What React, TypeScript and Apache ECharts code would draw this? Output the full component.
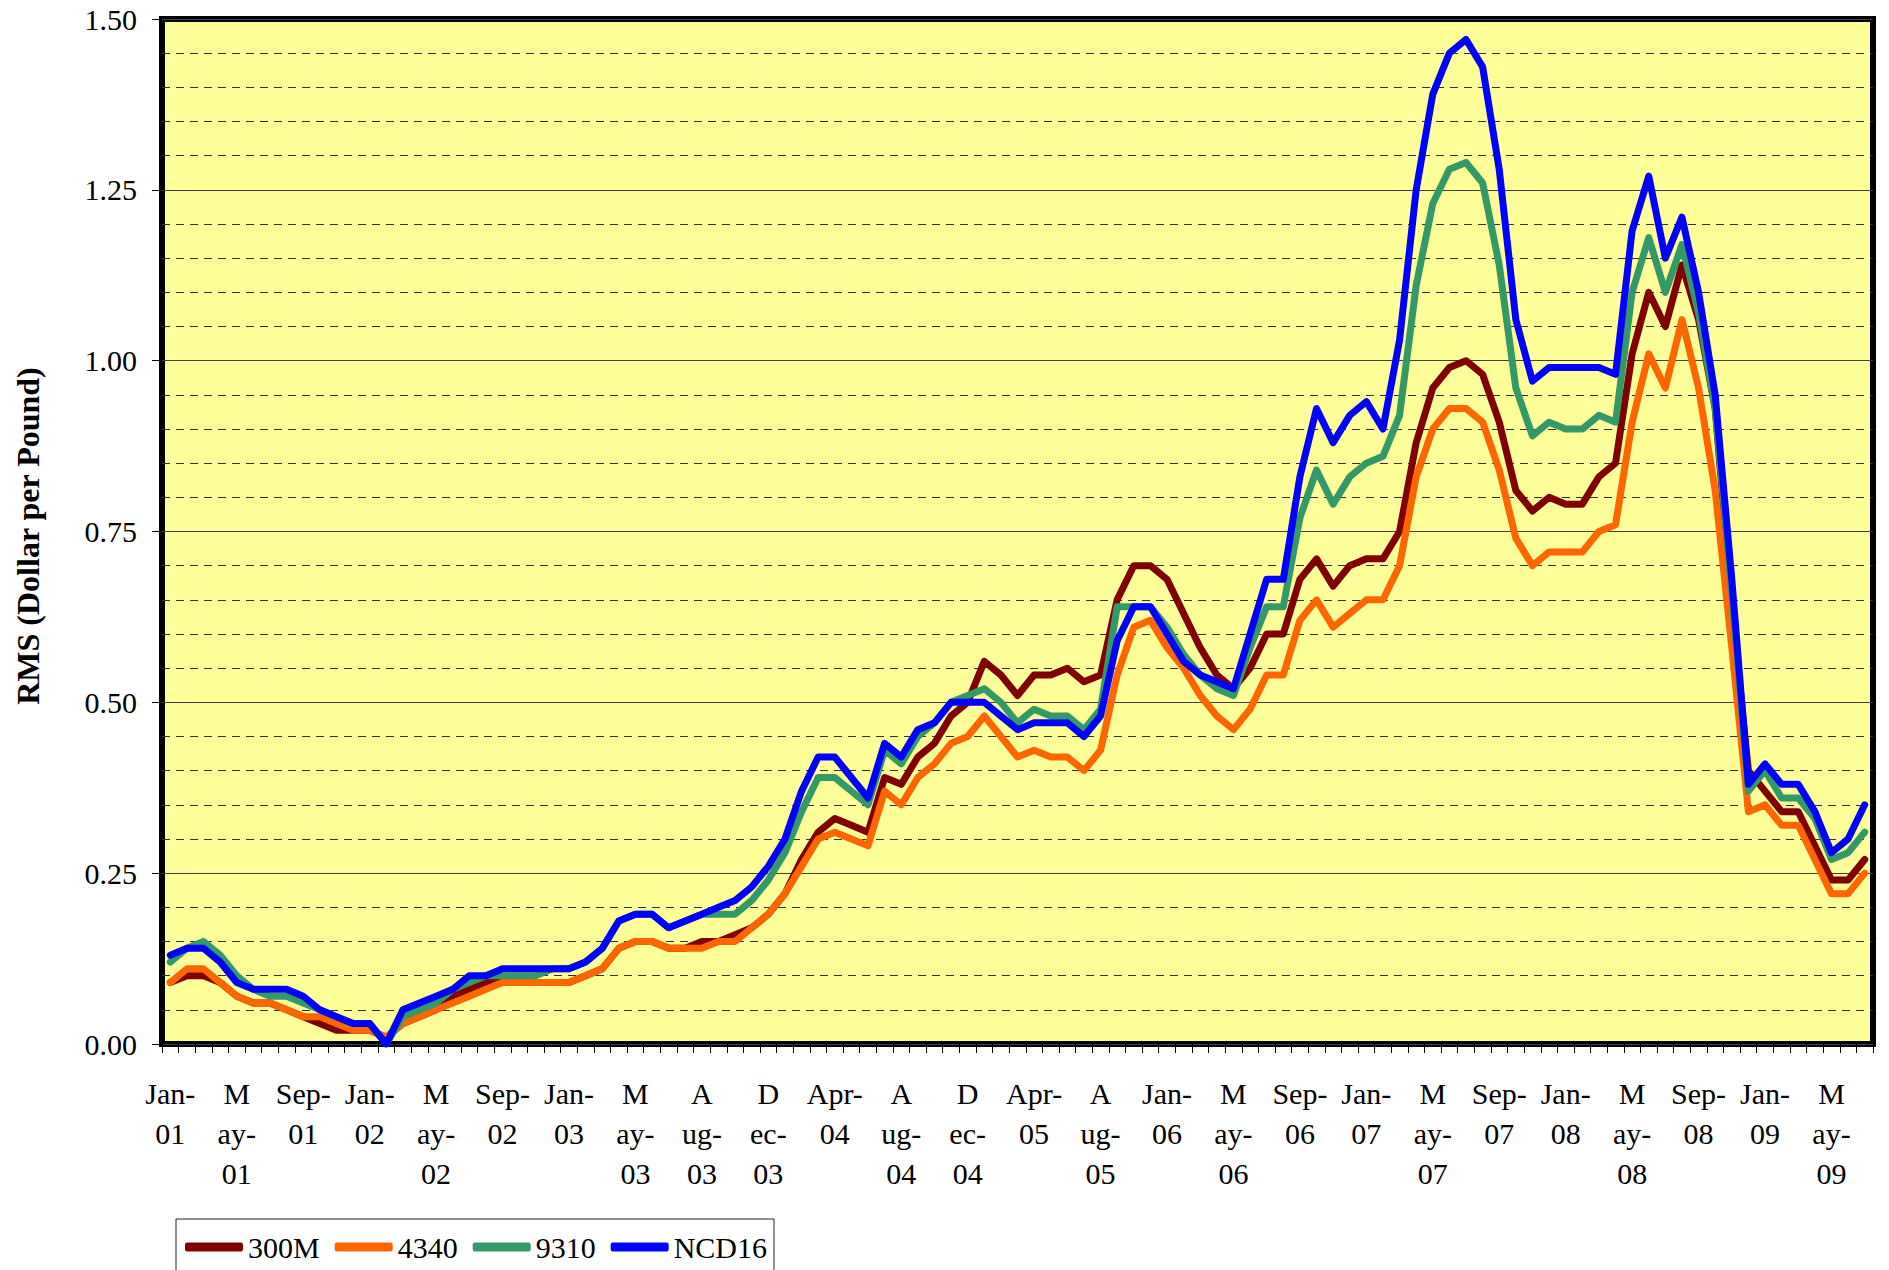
import React, { useEffect, useRef } from "react";
import * as echarts from "echarts";

const categories = [
  "Jan-01","Feb-01","Mar-01","Apr-01","May-01","Jun-01","Jul-01","Aug-01","Sep-01","Oct-01","Nov-01","Dec-01",
  "Jan-02","Feb-02","Mar-02","Apr-02","May-02","Jun-02","Jul-02","Aug-02","Sep-02","Oct-02","Nov-02","Dec-02",
  "Jan-03","Feb-03","Mar-03","Apr-03","May-03","Jun-03","Jul-03","Jul-03","Aug-03","Sep-03","Oct-03","Nov-03","Dec-03",
  "Jan-04","Feb-04","Mar-04","Apr-04","May-04","Jun-04","Jul-04","Aug-04","Sep-04","Oct-04","Nov-04","Dec-04",
  "Jan-05","Feb-05","Mar-05","Apr-05","May-05","Jun-05","Jul-05","Aug-05","Sep-05","Oct-05","Dec-05",
  "Jan-06","Feb-06","Mar-06","Apr-06","May-06","Jun-06","Jul-06","Aug-06","Sep-06","Oct-06","Nov-06","Dec-06",
  "Jan-07","Feb-07","Mar-07","Apr-07","May-07","Jun-07","Jul-07","Aug-07","Sep-07","Oct-07","Nov-07","Dec-07",
  "Jan-08","Feb-08","Mar-08","Apr-08","May-08","Jun-08","Jul-08","Aug-08","Sep-08","Oct-08","Nov-08","Dec-08",
  "Jan-09","Feb-09","Mar-09","Apr-09","May-09","Jun-09","Jul-09",
];

const s300M = [
  0.09,0.10,0.10,0.09,0.07,0.06,0.06,0.05,0.04,0.03,0.02,0.02,
  0.02,0.01,0.03,0.04,0.05,0.07,0.08,0.09,0.09,0.09,0.09,0.09,
  0.09,0.10,0.11,0.14,0.15,0.15,0.14,0.14,0.15,0.15,0.16,0.17,0.19,
  0.22,0.27,0.31,0.33,0.32,0.31,0.39,0.38,0.42,0.44,0.48,0.50,
  0.56,0.54,0.51,0.54,0.54,0.55,0.53,0.54,0.65,0.70,0.70,
  0.68,0.63,0.58,0.54,0.52,0.55,0.60,0.60,0.68,0.71,0.67,0.70,
  0.71,0.71,0.75,0.88,0.96,0.99,1.00,0.98,0.91,0.81,0.78,0.80,
  0.79,0.79,0.83,0.85,1.01,1.10,1.05,1.14,1.06,0.93,0.64,0.40,
  0.37,0.34,0.34,0.29,0.24,0.24,0.27,
];

const s4340 = [
  0.09,0.11,0.11,0.09,0.07,0.06,0.06,0.05,0.04,0.04,0.03,0.02,
  0.02,0.01,0.03,0.04,0.05,0.06,0.07,0.08,0.09,0.09,0.09,0.09,
  0.09,0.10,0.11,0.14,0.15,0.15,0.14,0.14,0.14,0.15,0.15,0.17,0.19,
  0.22,0.26,0.30,0.31,0.30,0.29,0.37,0.35,0.39,0.41,0.44,0.45,
  0.48,0.45,0.42,0.43,0.42,0.42,0.40,0.43,0.54,0.61,0.62,
  0.58,0.55,0.51,0.48,0.46,0.49,0.54,0.54,0.62,0.65,0.61,0.63,
  0.65,0.65,0.70,0.83,0.90,0.93,0.93,0.91,0.84,0.74,0.70,0.72,
  0.72,0.72,0.75,0.76,0.91,1.01,0.96,1.06,0.96,0.81,0.58,0.34,
  0.35,0.32,0.32,0.27,0.22,0.22,0.25,
];

const s9310 = [
  0.12,0.14,0.15,0.13,0.10,0.08,0.07,0.07,0.06,0.05,0.04,0.03,
  0.03,0.00,0.04,0.05,0.06,0.08,0.09,0.10,0.10,0.10,0.10,0.11,
  0.11,0.12,0.14,0.18,0.19,0.19,0.17,0.18,0.19,0.19,0.19,0.21,0.24,
  0.28,0.34,0.39,0.39,0.37,0.35,0.43,0.41,0.45,0.47,0.50,0.51,
  0.52,0.50,0.47,0.49,0.48,0.48,0.46,0.49,0.64,0.64,0.64,
  0.61,0.57,0.54,0.52,0.51,0.58,0.64,0.64,0.77,0.84,0.79,0.83,
  0.85,0.86,0.92,1.11,1.23,1.28,1.29,1.26,1.14,0.96,0.89,0.91,
  0.90,0.90,0.92,0.91,1.10,1.18,1.10,1.17,1.07,0.93,0.66,0.37,
  0.40,0.36,0.36,0.33,0.27,0.28,0.31,
];

const sNCD16 = [
  0.13,0.14,0.14,0.12,0.09,0.08,0.08,0.08,0.07,0.05,0.04,0.03,
  0.03,0.00,0.05,0.06,0.07,0.08,0.10,0.10,0.11,0.11,0.11,0.11,
  0.11,0.12,0.14,0.18,0.19,0.19,0.17,0.18,0.19,0.20,0.21,0.23,0.26,
  0.30,0.37,0.42,0.42,0.39,0.36,0.44,0.42,0.46,0.47,0.50,0.50,
  0.50,0.48,0.46,0.47,0.47,0.47,0.45,0.48,0.59,0.64,0.64,
  0.60,0.56,0.54,0.53,0.52,0.60,0.68,0.68,0.83,0.93,0.88,0.92,
  0.94,0.90,1.03,1.25,1.39,1.45,1.47,1.43,1.28,1.06,0.97,0.99,
  0.99,0.99,0.99,0.98,1.19,1.27,1.15,1.21,1.10,0.95,0.68,0.38,
  0.41,0.38,0.38,0.34,0.28,0.30,0.35,
];

const seriesNames = ["300M", "4340", "9310", "NCD16"];
const seriesColors = ["#800000", "#FF6600", "#339966", "#0000FF"];
const seriesData = [s300M, s4340, s9310, sNCD16];

const yAxisTitle = "RMS (Dollar per Pound)";
const splitMonths = ["May", "Aug", "Dec"];
const FONT = "'Liberation Serif', 'Times New Roman', serif";

function formatCategory(v: string): string {
  const [m, y] = v.split("-");
  if (splitMonths.includes(m)) return m[0] + "\n" + m.slice(1) + "-\n" + y;
  return m + "-\n" + y;
}

export default function App() {
  const ref = useRef<HTMLDivElement>(null);

  useEffect(() => {
    if (!ref.current) return;
    const chart = echarts.init(ref.current, null, { renderer: "svg" });
    chart.setOption({
      animation: false,
      backgroundColor: "#ffffff",
      textStyle: { fontFamily: FONT },
      grid: {
        left: 162,
        right: 16,
        top: 19,
        bottom: 226,
        show: true,
        backgroundColor: "#FFFF99",
        borderColor: "#000000",
        borderWidth: 6,
        z: 0,
      },
      legend: {
        data: seriesNames,
        left: 176,
        top: 1219,
        orient: "horizontal",
        backgroundColor: "#ffffff",
        borderColor: "#222222",
        borderWidth: 1,
        borderRadius: 0,
        padding: [13, 7, 40, 9],
        itemGap: 15,
        itemWidth: 58,
        itemHeight: 9,
        icon: "roundRect",
        textStyle: { fontFamily: FONT, fontSize: 30, color: "#000000" },
      },
      xAxis: {
        type: "category",
        data: categories,
        boundaryGap: true,
        axisLine: { show: false },
        axisTick: {
          show: true,
          interval: 0,
          length: 9,
          inside: false,
          lineStyle: { color: "#000000", width: 1 },
        },
        axisLabel: {
          interval: 3,
          margin: 29,
          fontFamily: FONT,
          fontSize: 30,
          lineHeight: 40,
          color: "#000000",
          formatter: (v: string) => formatCategory(v),
        },
        splitLine: { show: false },
      },
      yAxis: {
        type: "value",
        min: 0,
        max: 1.5,
        interval: 0.25,
        axisLine: { show: false },
        axisTick: { show: true, length: 10, lineStyle: { color: "#000000", width: 1 } },
        axisLabel: {
          margin: 25,
          fontFamily: FONT,
          fontSize: 30,
          color: "#000000",
          formatter: (v: number) => v.toFixed(2),
        },
        splitLine: { show: true, lineStyle: { color: "#404040", width: 1, type: "solid" } },
        minorTick: { show: false, splitNumber: 5 },
        minorSplitLine: {
          show: true,
          lineStyle: { color: "#303030", width: 1, type: [8, 6] },
        },
      },
      graphic: [
        {
          type: "text",
          x: 28,
          y: 536,
          rotation: Math.PI / 2,
          style: {
            text: yAxisTitle,
            fontFamily: FONT,
            fontWeight: "bold",
            fontSize: 32,
            fill: "#000000",
            textAlign: "center",
            textVerticalAlign: "middle",
          },
        },
      ],
      series: seriesNames.map((name, i) => ({
        name,
        type: "line",
        data: seriesData[i],
        showSymbol: false,
        symbol: "none",
        color: seriesColors[i],
        lineStyle: { width: 7, color: seriesColors[i], cap: "round", join: "round" },
        z: 3 + i,
      })),
    });
    return () => chart.dispose();
  }, []);

  return (
    <div
      ref={ref}
      style={{ position: "fixed", left: 0, top: 0, width: 1889, height: 1270 }}
    />
  );
}
